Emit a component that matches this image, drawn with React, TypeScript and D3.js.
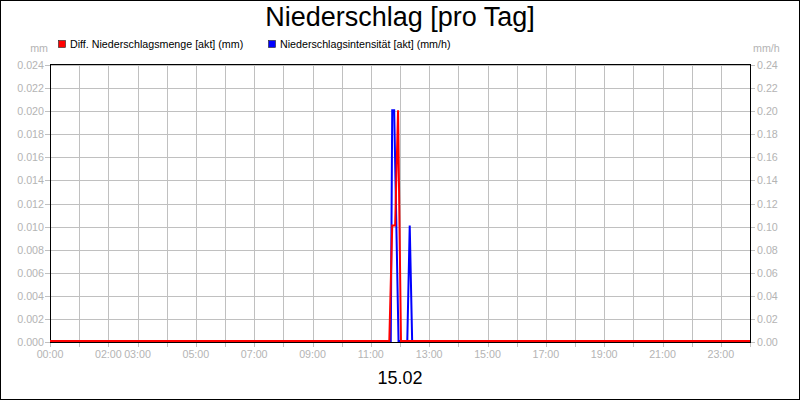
import React from "react";
import * as d3 from "d3";

const title = "Niederschlag [pro Tag]";
const subtitle = "15.02";
const seriesNames = ["Diff. Niederschlagsmenge [akt] (mm)", "Niederschlagsintensität [akt] (mm/h)"];
const seriesColors = ["#ff0000", "#0000ff"];

const redTimes = ["00:00", "11:38", "11:44", "11:50", "11:56", "12:02", "24:00"];
const redValues = [0, 0, 0.01, 0.01, 0.02, 0, 0];
const blueTimes = ["00:00", "11:41", "11:44", "11:48", "11:57", "12:15", "12:20", "12:25", "24:00"];
const blueValues = [0, 0, 0.2, 0.2, 0, 0, 0.1, 0, 0];

const xTickLabels = ["00:00", "02:00", "03:00", "05:00", "07:00", "09:00", "11:00", "13:00", "15:00", "17:00", "19:00", "21:00", "23:00"];
const leftTicks = [0, 0.002, 0.004, 0.006, 0.008, 0.01, 0.012, 0.014, 0.016, 0.018, 0.02, 0.022, 0.024];
const rightTicks = [0, 0.02, 0.04, 0.06, 0.08, 0.1, 0.12, 0.14, 0.16, 0.18, 0.2, 0.22, 0.24];
const hourGrid = d3.range(0, 25);

const toHours = (s: string) => {
  const [h, m] = s.split(":").map(Number);
  return h + m / 60;
};

export default function App() {
  const W = 800, H = 400;
  const L = 50, R = 750, T = 65, B = 342;
  const x = d3.scaleLinear().domain([0, 24]).range([L, R]);
  const yL = d3.scaleLinear().domain([0, 0.024]).range([B, T]);
  const yR = d3.scaleLinear().domain([0, 0.24]).range([B, T]);
  const font = "'Liberation Sans', Arial, sans-serif";
  const grey = "#b4b4b4";
  const gridC = "#c0c0c0";
  const px = (v: number) => Math.round(v) + 0.5;

  const redLine = d3.line<number>()
    .x((_, i) => x(toHours(redTimes[i])))
    .y((d) => yL(d) - 1)(redValues) || "";
  const blueLine = d3.line<number>()
    .x((_, i) => x(toHours(blueTimes[i])))
    .y((d) => yR(d) - 1)(blueValues) || "";

  return (
    <svg width={W} height={H} style={{ position: "absolute", left: 0, top: 0, background: "#fff" }} fontFamily={font}>
      <rect x={0.5} y={0.5} width={W - 1} height={H - 1} fill="#fff" stroke="#000" />
      <text x={400} y={26} textAnchor="middle" fontSize={27} fill="#000">{title}</text>
      <text x={400} y={384} textAnchor="middle" fontSize={18} fill="#000">{subtitle}</text>

      {/* legend */}
      <rect x={58.5} y={40.5} width={7} height={7} fill={seriesColors[0]} stroke="#222" strokeWidth={0.6} />
      <text x={70} y={48} fontSize={10.7} fill="#000">{seriesNames[0]}</text>
      <rect x={268.5} y={40.5} width={7} height={7} fill={seriesColors[1]} stroke="#222" strokeWidth={0.6} />
      <text x={280} y={48} fontSize={10.7} fill="#000">{seriesNames[1]}</text>

      <text x={48} y={52} textAnchor="end" fontSize={10.7} fill={grey}>mm</text>
      <text x={753} y={52} fontSize={10.7} fill={grey}>mm/h</text>

      {/* grid */}
      {hourGrid.map((h) => (
        <line key={"v" + h} x1={px(x(h))} x2={px(x(h))} y1={T} y2={B + 5} stroke={gridC} />
      ))}
      {leftTicks.map((t) => (
        <line key={"h" + t} x1={L - 5} x2={R + 5} y1={px(yL(t))} y2={px(yL(t))} stroke={gridC} />
      ))}

      {/* tick labels */}
      {leftTicks.map((t) => (
        <text key={"lt" + t} x={44} y={yL(t) + 4} textAnchor="end" fontSize={10.7} fill={grey}>{t.toFixed(3)}</text>
      ))}
      {rightTicks.map((t) => (
        <text key={"rt" + t} x={757} y={yR(t) + 4} fontSize={10.7} fill={grey}>{t.toFixed(2)}</text>
      ))}
      {xTickLabels.map((s) => (
        <text key={"xt" + s} x={x(toHours(s))} y={358} textAnchor="middle" fontSize={10.7} fill={grey}>{s}</text>
      ))}

      {/* frame */}
      <rect x={L + 0.5} y={T - 0.5} width={R - L} height={B - T + 1} fill="none" stroke="#000" />

      {/* series */}
      <path d={blueLine} fill="none" stroke={seriesColors[1]} strokeWidth={2} />
      <path d={redLine} fill="none" stroke={seriesColors[0]} strokeWidth={2} />
    </svg>
  );
}
